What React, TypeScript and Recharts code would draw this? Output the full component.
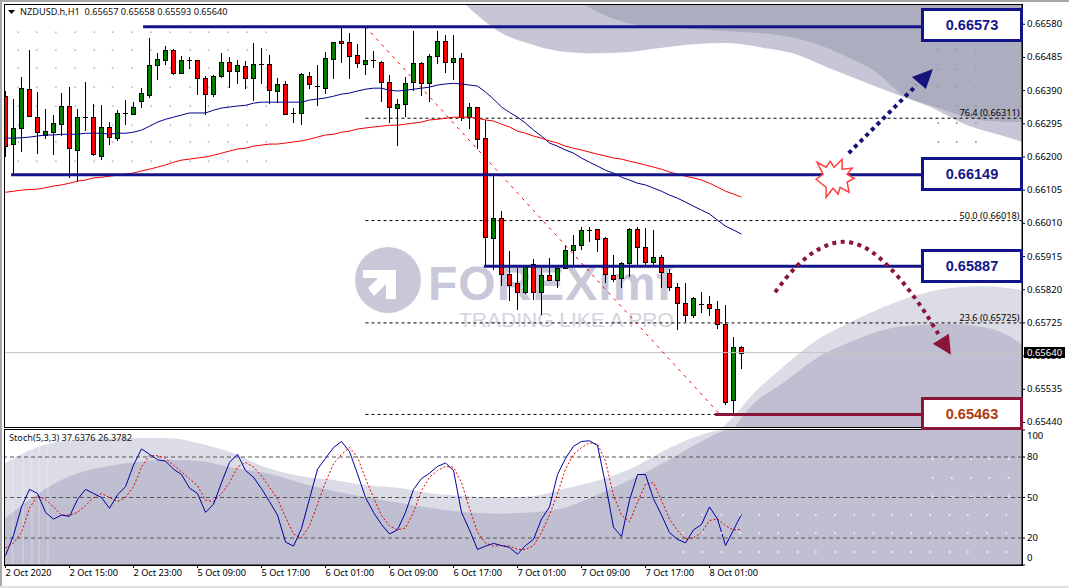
import {
  ComposedChart,
  Area,
  Bar,
  Line,
  Scatter,
  XAxis,
  YAxis,
  ReferenceLine,
  ReferenceDot,
} from 'recharts'

// prices are kept in points (1/100000), one value per H1 bar
const opens = [
  66374, 66237, 66283, 66394, 66314, 66263, 66271, 66294, 66346, 66220,
  66314, 66314, 66203, 66286, 66254, 66326, 66323, 66360, 66377, 66463,
  66477, 66506, 66440, 66477, 66477, 66426, 66380, 66432, 66472, 66446,
  66460, 66426, 66466, 66466, 66389, 66409, 66326, 66326, 66432, 66403,
  66397, 66480, 66532, 66529, 66492, 66466, 66477, 66472, 66414, 66340,
  66351, 66414, 66469, 66411, 66489, 66532, 66472, 66483, 66314, 66343,
  66254, 65968, 66025, 65865, 65839, 65813, 65893, 65813, 65862, 65848,
  65882, 65933, 65948, 65991, 65994, 65968, 65862, 65853, 65896, 65994,
  65942, 65899, 65913, 65868, 65828, 65782, 65748, 65779, 65779, 65765,
  65722, 65504, 65657,
]
const highs = [
  66389, 66366, 66429, 66506, 66386, 66337, 66320, 66383, 66400, 66337,
  66414, 66351, 66348, 66300, 66334, 66363, 66357, 66397, 66540, 66497,
  66517, 66509, 66489, 66486, 66477, 66432, 66434, 66497, 66486, 66477,
  66474, 66526, 66512, 66492, 66426, 66417, 66340, 66440, 66443, 66463,
  66500, 66529, 66569, 66555, 66523, 66572, 66503, 66474, 66434, 66366,
  66429, 66560, 66472, 66494, 66560, 66549, 66549, 66497, 66354, 66343,
  66306, 66145, 66045, 65931, 65882, 65891, 65908, 65882, 65911, 65891,
  65948, 65976, 66000, 66000, 65994, 65971, 65919, 65899, 65996, 66000,
  65996, 65991, 65919, 65879, 65839, 65839, 65799, 65813, 65802, 65788,
  65776, 65685, 65658,
]
const lows = [
  66200, 66148, 66214, 66314, 66208, 66251, 66205, 66260, 66140, 66128,
  66274, 66203, 66191, 66234, 66246, 66291, 66320, 66340, 66369, 66420,
  66463, 66434, 66437, 66452, 66377, 66320, 66371, 66426, 66397, 66409,
  66394, 66360, 66409, 66351, 66354, 66323, 66297, 66291, 66394, 66346,
  66380, 66423, 66469, 66423, 66454, 66434, 66454, 66357, 66297, 66231,
  66314, 66389, 66374, 66357, 66466, 66440, 66420, 66303, 66280, 66223,
  65885, 65876, 65830, 65788, 65762, 65808, 65790, 65748, 65845, 65825,
  65879, 65885, 65933, 65956, 65928, 65839, 65842, 65825, 65856, 65891,
  65891, 65888, 65825, 65816, 65705, 65727, 65739, 65753, 65745, 65707,
  65490, 65467, 65593,
]
const closes = [
  66231, 66283, 66397, 66317, 66271, 66274, 66297, 66346, 66225, 66314,
  66311, 66208, 66286, 66257, 66326, 66323, 66343, 66383, 66463, 66480,
  66506, 66440, 66477, 66474, 66426, 66380, 66432, 66472, 66446, 66463,
  66426, 66466, 66463, 66391, 66409, 66323, 66323, 66437, 66409, 66400,
  66483, 66529, 66526, 66489, 66469, 66477, 66472, 66414, 66343, 66351,
  66411, 66469, 66411, 66489, 66532, 66472, 66483, 66314, 66343, 66251,
  65971, 66025, 65865, 65833, 65813, 65888, 65813, 65862, 65848, 65882,
  65933, 65948, 65991, 65988, 65965, 65865, 65851, 65896, 65994, 65942,
  65899, 65913, 65871, 65828, 65782, 65748, 65796, 65776, 65768, 65722,
  65498, 65656, 65640,
]
const maFast = [
  66254, 66254, 66255, 66257, 66260, 66263, 66263, 66265, 66265, 66265,
  66268, 66268, 66268, 66265, 66268, 66268, 66271, 66277, 66288, 66300,
  66308, 66314, 66320, 66326, 66326, 66326, 66334, 66340, 66343, 66346,
  66348, 66354, 66357, 66357, 66357, 66357, 66357, 66357, 66363, 66366,
  66369, 66374, 66380, 66383, 66389, 66394, 66397, 66397, 66391, 66389,
  66391, 66394, 66397, 66400, 66406, 66409, 66411, 66409, 66406, 66403,
  66386, 66366, 66343, 66328, 66314, 66297, 66277, 66260, 66240, 66231,
  66220, 66211, 66197, 66185, 66174, 66162, 66154, 66142, 66134, 66125,
  66120, 66111, 66102, 66091, 66082, 66071, 66059, 66048, 66037, 66019,
  66002, 65991, 65979,
]
const maSlow = [
  66099, 66102, 66105, 66107, 66108, 66112, 66117, 66120, 66125, 66131,
  66134, 66140, 66142, 66145, 66148, 66151, 66154, 66160, 66165, 66171,
  66177, 66185, 66191, 66194, 66197, 66200, 66205, 66211, 66217, 66223,
  66225, 66231, 66234, 66237, 66237, 66240, 66243, 66246, 66251, 66257,
  66263, 66265, 66271, 66274, 66280, 66283, 66286, 66288, 66291, 66291,
  66294, 66297, 66300, 66306, 66308, 66311, 66314, 66314, 66314, 66311,
  66306, 66303, 66294, 66286, 66274, 66268, 66260, 66254, 66246, 66240,
  66231, 66225, 66220, 66214, 66208, 66203, 66197, 66194, 66188, 66183,
  66177, 66171, 66165, 66157, 66151, 66145, 66140, 66134, 66125, 66114,
  66102, 66094, 66085,
]
const stochMain = [
  7, 22, 43, 56, 53, 39, 34, 37, 36, 48.5,
  56, 53, 50, 42, 52, 58, 74, 86, 82, 78,
  77, 71, 67, 57, 53, 39, 45, 61, 76, 82,
  70, 65, 56.5, 47, 37, 17, 14, 27, 49, 71,
  79, 87, 91.5, 84, 67.5, 50, 39, 30, 23, 26,
  39, 56, 64, 68, 73, 75.6, 70, 39, 26, 11.5,
  14, 16, 14.4, 13, 8, 14.4, 19, 34, 43, 67,
  79, 88, 91.5, 92, 88.5, 60, 28, 21, 48, 67,
  67, 49, 37, 24, 19, 16.4, 26, 30, 43, 34,
  14.4, 26, 37.6,
]
const stochSignal = [
  12.5, 16.4, 24, 42, 51.5, 48.5, 43, 37, 37, 39,
  44, 50, 53, 50, 47, 50, 58, 72.5, 81, 81,
  79, 74, 69, 64, 58.7, 48, 47, 53, 61, 72.5,
  76, 72.5, 66, 57.6, 49, 35.4, 23, 20, 29, 45,
  61.3, 75, 82, 87, 80, 64, 50, 36.6, 29, 26,
  27.5, 39, 55, 65, 70, 73, 72.4, 61, 42, 24.3,
  16.4, 14, 14.4, 14, 11.5, 11.5, 14.4, 24, 37, 52.7,
  71, 82, 87, 90.5, 89.7, 77, 51.5, 37, 32, 46.5,
  60, 61, 47.7, 34, 25.5, 19.3, 20, 24, 33, 34,
  29, 26, 26.4,
]

const timeTickBars = [0, 8, 16, 24, 32, 40, 48, 56, 64, 72, 80, 88]
const timeTickLabels = [
  '2 Oct 2020', '2 Oct 15:00', '2 Oct 23:00', '5 Oct 09:00', '5 Oct 17:00', '6 Oct 01:00',
  '6 Oct 09:00', '6 Oct 17:00', '7 Oct 01:00', '7 Oct 09:00', '7 Oct 17:00', '8 Oct 01:00',
]
const priceTicks = [
  0.6658, 0.66485, 0.6639, 0.66295, 0.662, 0.66105, 0.6601, 0.65915, 0.6582, 0.65725, 0.6563,
  0.65535, 0.6544,
]
const stochTicks = [100, 80, 50, 20, 0]

// backdrop artwork, read as [bar, price points] / [bar, stoch value]
const topLight = [
  [57.4, 66638], [59, 66606], [61.4, 66563], [65.2, 66526], [69.3, 66503], [73.4, 66497],
  [77.7, 66500], [81.8, 66512], [86, 66523], [90.2, 66526], [94.3, 66514], [98.4, 66497],
  [102.7, 66457], [106.8, 66420], [110.9, 66383], [115.6, 66343], [120.2, 66291], [124.3, 66263],
  [127.1, 66243],
]
const topDark = [
  [72.2, 66638], [74.3, 66612], [78.4, 66580], [84, 66569], [90.2, 66560], [96.4, 66549],
  [100.6, 66529], [104.7, 66492], [109, 66440], [112.2, 66377], [115.6, 66348], [120.2, 66314],
  [123, 66303], [127.1, 66300],
]
const lowLight = [
  [89.7, 65427], [91.4, 65467], [93.1, 65513], [97.2, 65599], [101.4, 65676], [105.6, 65727],
  [109.7, 65770], [114, 65805], [118.1, 65825], [122.2, 65830], [127.1, 65819],
]
const lowDark = [
  [91.2, 65427], [93.1, 65484], [97.2, 65553], [101.4, 65624], [105.6, 65670], [109.7, 65705],
  [114, 65719], [118.1, 65722], [122.2, 65713], [124.7, 65696], [127.1, 65662],
]
const stochLight = [
  [-0.2, 75], [3.4, 86], [7.7, 92], [15.9, 94], [20.2, 94], [24.3, 90], [28.4, 83], [32.7, 72],
  [36.8, 66], [40.9, 63], [45.2, 59], [49.3, 57], [53.4, 53], [57.7, 51], [61.8, 50], [65.9, 51],
  [70.2, 57], [74.3, 63], [78.4, 72], [82.7, 86], [86.8, 96], [89.7, 100], [127.1, 100],
]
const stochDark = [
  [-0.2, 34], [3.4, 50], [7.7, 65], [11.8, 72], [15.9, 76], [20.2, 78], [24.3, 77], [28.4, 72],
  [32.7, 68], [36.8, 61], [40.9, 55], [45.2, 50], [49.3, 46], [53.4, 42], [57.7, 39], [61.8, 38],
  [65.9, 39], [70.2, 43], [74.3, 53], [78.4, 64], [82.7, 77], [86.8, 91], [90.6, 100], [127.1, 100],
]
const dotBarsLeft = [1.6, 3.9, 6.3, 8.7, 11.1, 13.4, 15.8, 18.2, 20.6, 23.1, 25.4, 27.8, 30.2, 32.6]
const dotPricesLeft = [66557, 66506, 66454, 66400, 66346, 66291, 66243, 66188]
const dotBarsRight = [116.6, 118.9, 121.3]
const dotPricesRight = [66506, 66452, 66400, 66346, 66297, 66243]
const stochDotBarsLow = [
  84.7, 87.1, 89.5, 91.8, 94.2, 96.6, 99, 101.3, 103.7, 106.1, 108.5, 110.8, 113.2, 115.6, 118,
  120.3, 122.7, 125.1,
]
const stochDotValuesLow = [37, 23.7, 9.6]
const stochDotBarsHigh = [115.9, 118.3, 120.7, 123, 125.4]
const stochDotValuesHigh = [78.5, 64.4, 51]
const stochStreaks = [0.9, 2.2, 3.3, 4.2, 5.3]

// hand-drawn arrows
const dropArc = [
  [96.2, 65813], [98.8, 65885], [101.9, 65939], [104.7, 65957], [107.7, 65937], [110.7, 65879],
  [113.2, 65811], [115, 65753], [116.6, 65693],
]
const riseArrow = [[105.4, 66211], [113.9, 66406]]

// horizontal levels: [price, first bar, last bar]
const navyLevels = [[0.66573, 17.2, 114.6], [0.66149, 0.7, 114.6], [0.65887, 59.8, 114.6]]
const fiboLevels = [0.66311, 0.66018, 0.65725]
const fiboLabels = ['76.4 (0.66311)', '50.0 (0.66018)', '23.6 (0.65725)']

const NAVY = '#14148a'
const MAROON = '#8b1538'
const boxes = [
  { text: '0.66573', top: 8, height: 34, color: NAVY, ink: NAVY },
  { text: '0.66149', top: 157, height: 34, color: NAVY, ink: NAVY },
  { text: '0.65887', top: 249, height: 34, color: NAVY, ink: NAVY },
  { text: '0.65463', top: 397, height: 33, color: MAROON, ink: '#b03a10' },
]

const PRICE_DOMAIN = [0.65427, 0.66638]
const BAR_DOMAIN = [-0.1875, 127.0625]
const FONT = '"Noto Sans", Tahoma, sans-serif'
const TEXT_SIZE = 9.2

const candles = opens.map((o, i) => ({
  i,
  open: o / 100000,
  high: highs[i] / 100000,
  low: lows[i] / 100000,
  close: closes[i] / 100000,
  fast: maFast[i] / 100000,
  slow: maSlow[i] / 100000,
  range: [lows[i] / 100000, highs[i] / 100000],
}))
const stochRows = stochMain.map((v, i) => ({ i, main: v, signal: stochSignal[i] }))
const priceEdge = (pts: number[][]) => pts.map(([i, p]) => ({ i, p: p / 100000 }))
const valueEdge = (pts: number[][]) => pts.map(([i, v]) => ({ i, v }))
const grid = (bars: number[], vals: number[], k = 1) =>
  vals.flatMap(v => bars.map(i => ({ i, v: v / k })))

function Candle(props: any) {
  const { x, y, width, height, payload } = props
  const cx = Math.floor(x + width / 2) + 0.5
  const k = height / (payload.high - payload.low || 1)
  const top = Math.round(y + (payload.high - Math.max(payload.open, payload.close)) * k) + 0.5
  const bot = Math.round(y + (payload.high - Math.min(payload.open, payload.close)) * k) + 0.5
  const doji = Math.abs(payload.open - payload.close) < 0.00006
  return (
    <g shapeRendering="crispEdges">
      <line x1={cx} x2={cx} y1={y} y2={y + height} stroke="#000" />
      {doji ? (
        <line x1={cx - 2.5} x2={cx + 2.5} y1={top} y2={top} stroke="#000" />
      ) : (
        <rect
          x={cx - 2}
          y={top}
          width={4}
          height={bot - top}
          fill={payload.close > payload.open ? '#007f00' : '#ff0000'}
          stroke="#000"
        />
      )}
    </g>
  )
}

const smallDot = (fill: string, r = 1) => (props: any) =>
  <circle cx={props.cx} cy={props.cy} r={r} fill={fill} />

const arrowHead = (points: string, fill: string) => (props: any) =>
  <polygon transform={`translate(${props.cx},${props.cy})`} points={points} fill={fill} />

const starShape = (props: any) => (
  <polygon
    transform={`translate(${props.cx},${props.cy})`}
    points="-18,-15 -9,-10 -5,-16 -1,-10 7,-18 7,-8 17,-9 12,-3 19,1 12,5 14,15 5,10 3,17 -2,11 -9,20 -9,10 -19,2 -12,-3"
    fill="#fff"
    stroke="#ff4040"
    strokeWidth={1.5}
  />
)

const rightTick = (fmt: (v: number) => string, nudge: (v: number) => number = () => 0) => (props: any) => (
  <text x={1027} y={props.y + 3 + nudge(props.payload.value)} fontSize={9.5} fontFamily={FONT} fill="#000">
    {fmt(props.payload.value)}
  </text>
)

const timeTick = (props: any) => (
  <text x={props.x} y={576} fontSize={TEXT_SIZE} fontFamily={FONT} fill="#000">
    {timeTickLabels[timeTickBars.indexOf(props.payload.value)]}
  </text>
)

function Backdrop() {
  return (
    <ComposedChart
      width={1069}
      height={588}
      margin={{ top: 4, left: 4, right: 47, bottom: 161 }}
      style={{ position: 'absolute', left: 0, top: 0 }}
    >
      <XAxis type="number" dataKey="i" domain={BAR_DOMAIN} allowDataOverflow hide />
      <YAxis domain={PRICE_DOMAIN} allowDataOverflow hide />
      <Area data={priceEdge(topLight)} dataKey={(d: any) => [d.p, PRICE_DOMAIN[1]]} type="monotone" fill="#c6c6d6" fillOpacity={1} stroke="none" isAnimationActive={false} />
      <Area data={priceEdge(topDark)} dataKey={(d: any) => [d.p, PRICE_DOMAIN[1]]} type="monotone" fill="#adadc0" fillOpacity={1} stroke="none" isAnimationActive={false} />
      <Area data={priceEdge(lowLight)} dataKey={(d: any) => [PRICE_DOMAIN[0], d.p]} type="monotone" fill="#dcdce6" fillOpacity={1} stroke="none" isAnimationActive={false} />
      <Area data={priceEdge(lowDark)} dataKey={(d: any) => [PRICE_DOMAIN[0], d.p]} type="monotone" fill="#bfbfd1" fillOpacity={1} stroke="none" isAnimationActive={false} />
      <Scatter data={grid(dotBarsLeft, dotPricesLeft, 100000)} dataKey="v" shape={smallDot('#c2c2cf')} isAnimationActive={false} />
      <Scatter data={grid(dotBarsRight, dotPricesRight, 100000)} dataKey="v" shape={smallDot('#98989f')} isAnimationActive={false} />
    </ComposedChart>
  )
}

function PriceChart() {
  return (
    <ComposedChart
      width={1069}
      height={588}
      data={candles}
      margin={{ top: 4, left: 4, right: 0, bottom: 161 }}
      style={{ position: 'absolute', left: 0, top: 0 }}
    >
      <XAxis type="number" dataKey="i" domain={BAR_DOMAIN} allowDataOverflow hide />
      <YAxis
        orientation="right"
        width={47}
        domain={PRICE_DOMAIN}
        allowDataOverflow
        ticks={priceTicks}
        interval={0}
        axisLine={{ stroke: '#000' }}
        tickLine={{ stroke: '#000' }}
        tickSize={3}
        tick={rightTick(v => v.toFixed(5))}
      />
      <ReferenceLine y={0.6564} stroke="#c4c4c4" ifOverflow="visible" />
      {fiboLevels.map((p, n) => (
        <ReferenceLine
          key={p}
          segment={[{ x: 45, y: p }, { x: 127, y: p }]}
          stroke="#000"
          strokeDasharray="3 3"
          label={{ value: fiboLabels[n], position: 'insideBottomRight', offset: 2, fontSize: TEXT_SIZE, fontFamily: FONT, fill: '#000' }}
        />
      ))}
      <ReferenceLine segment={[{ x: 45, y: 0.65463 }, { x: 89, y: 0.65463 }]} stroke="#000" strokeDasharray="3 3" />
      <ReferenceLine segment={[{ x: 45, y: 0.66573 }, { x: 89.3, y: 0.65463 }]} stroke="#ff0000" strokeDasharray="3 5" />
      <Bar dataKey="range" barSize={5} shape={Candle} isAnimationActive={false} />
      <Line dataKey="fast" dot={false} activeDot={false} stroke="#00008b" strokeWidth={1} isAnimationActive={false} />
      <Line dataKey="slow" dot={false} activeDot={false} stroke="#f00000" strokeWidth={1} isAnimationActive={false} />
      {navyLevels.map(([p, a, b]) => (
        <ReferenceLine key={p} segment={[{ x: a, y: p }, { x: b, y: p }]} stroke={NAVY} strokeWidth={3} />
      ))}
      <ReferenceLine segment={[{ x: 88.7, y: 0.65463 }, { x: 114.6, y: 0.65463 }]} stroke={MAROON} strokeWidth={3} />
      <Line data={priceEdge(riseArrow)} dataKey="p" dot={false} activeDot={false} stroke="#14147a" strokeWidth={4} strokeDasharray="4 4" isAnimationActive={false} />
      <Line data={priceEdge(dropArc)} dataKey="p" type="monotone" dot={false} activeDot={false} stroke={MAROON} strokeWidth={4} strokeDasharray="4 4.5" isAnimationActive={false} />
      <ReferenceDot x={114.8} y={0.66426} shape={arrowHead('9,-9 -12,-1 2,11', '#14147a')} />
      <ReferenceDot x={117.3} y={0.65665} shape={arrowHead('-11,0 5,-10 7,11', MAROON)} />
      <ReferenceDot x={103.7} y={0.66142} shape={starShape} />
    </ComposedChart>
  )
}

function StochChart() {
  return (
    <ComposedChart
      width={1069}
      height={588}
      data={stochRows}
      margin={{ top: 430, left: 4, right: 0, bottom: 3 }}
      style={{ position: 'absolute', left: 0, top: 0 }}
    >
      <XAxis
        type="number"
        dataKey="i"
        domain={BAR_DOMAIN}
        allowDataOverflow
        height={20}
        ticks={timeTickBars}
        interval={0}
        axisLine={{ stroke: '#000' }}
        tickLine={{ stroke: '#000' }}
        tickSize={3}
        tick={timeTick}
      />
      <YAxis
        orientation="right"
        width={47}
        domain={[0, 100]}
        ticks={stochTicks}
        interval={0}
        axisLine={{ stroke: '#000' }}
        tickLine={{ stroke: '#000' }}
        tickSize={3}
        tick={rightTick(v => String(v), v => (v === 100 ? 6 : v === 0 ? -7 : 0))}
      />
      <Area data={valueEdge(stochLight)} dataKey="v" type="monotone" fill="#dcdce6" fillOpacity={1} stroke="none" isAnimationActive={false} />
      <Area data={valueEdge(stochDark)} dataKey="v" type="monotone" fill="#bfbfd1" fillOpacity={1} stroke="none" isAnimationActive={false} />
      {stochStreaks.map(x => (
        <ReferenceLine key={x} x={x} stroke="#fff" strokeOpacity={0.35} />
      ))}
      <Scatter data={grid(stochDotBarsLow, stochDotValuesLow)} dataKey="v" shape={smallDot('#f0f0f5')} isAnimationActive={false} />
      <Scatter data={grid(stochDotBarsHigh, stochDotValuesHigh)} dataKey="v" shape={smallDot('#f0f0f5')} isAnimationActive={false} />
      {[80, 50, 20].map(v => (
        <ReferenceLine key={v} y={v} stroke="#555" strokeDasharray="4 3" />
      ))}
      <Line dataKey="signal" dot={false} activeDot={false} stroke="#e00000" strokeDasharray="2 2" strokeWidth={1} isAnimationActive={false} />
      <Line dataKey="main" dot={false} activeDot={false} stroke="#0000a0" strokeWidth={1} isAnimationActive={false} />
    </ComposedChart>
  )
}

function Watermark() {
  return (
    <>
      <svg width={70} height={70} style={{ position: 'absolute', left: 354, top: 246 }}>
        <circle cx={34} cy={34} r={33} fill="#c8c8d8" />
        <path d="M9 24 L42 24 L42 53 L32 53 L32 38 L20 50 L14 42 L24 32 L9 32 Z" fill="#fff" />
      </svg>
      <div style={{ position: 'absolute', left: 428, top: 256, fontFamily: '"Liberation Sans"', fontWeight: 700, fontSize: 48, lineHeight: '56px', color: '#c8c8d8', letterSpacing: 1 }}>
        FOREXimf
      </div>
      <div style={{ position: 'absolute', left: 459, top: 307, fontFamily: '"Liberation Sans"', fontSize: 21, lineHeight: '26px', color: '#d4d4e0', whiteSpace: 'nowrap' }}>
        TRADING LIKE A PRO
      </div>
    </>
  )
}

const frame = (left: number, top: number, width: number, height: number) => (
  <div style={{ position: 'absolute', left, top, width, height, border: '1px solid #000', boxSizing: 'border-box', pointerEvents: 'none' }} />
)

export default function App() {
  return (
    <div style={{ position: 'fixed', left: 0, top: 0, width: 1069, height: 588, background: '#fff', overflow: 'hidden', fontFamily: FONT }}>
      <Watermark />
      <Backdrop />
      <StochChart />
      <PriceChart />
      {frame(4, 4, 1019, 424)}
      {frame(4, 429, 1019, 137)}
      <div style={{ position: 'absolute', left: 0, top: 0, width: 1069, height: 2, background: '#a8a8a8' }} />
      <div style={{ position: 'absolute', left: 0, top: 0, width: 2, height: 588, background: '#a8a8a8' }} />
      <div style={{ position: 'absolute', left: 0, top: 586, width: 1069, height: 2, background: '#e2e2e2' }} />
      <svg width={10} height={6} style={{ position: 'absolute', left: 8, top: 10 }}>
        <polygon points="0,0 7,0 3.5,4" fill="#000" />
      </svg>
      <div style={{ position: 'absolute', left: 20, top: 5, fontSize: TEXT_SIZE, lineHeight: '14px', color: '#111', whiteSpace: 'pre' }}>
        NZDUSD.h,H1  0.65657 0.65658 0.65593 0.65640
      </div>
      <div style={{ position: 'absolute', left: 9, top: 431, fontSize: TEXT_SIZE, lineHeight: '14px', color: '#111', whiteSpace: 'pre' }}>
        Stoch(5,3,3) 37.6376 26.3782
      </div>
      <div style={{ position: 'absolute', left: 1024, top: 347, width: 41, height: 11, background: '#000', color: '#fff', fontSize: 9.5, lineHeight: '11px', textAlign: 'center' }}>
        0.65640
      </div>
      {boxes.map(b => (
        <div
          key={b.text}
          style={{
            position: 'absolute',
            left: 921,
            top: b.top,
            width: 102,
            height: b.height,
            boxSizing: 'border-box',
            background: '#fff',
            border: `3px solid ${b.color}`,
            color: b.ink,
            fontFamily: '"Liberation Sans"',
            fontWeight: 700,
            fontSize: 14.5,
            lineHeight: '28px',
            textAlign: 'center',
          }}
        >
          {b.text}
        </div>
      ))}
    </div>
  )
}
